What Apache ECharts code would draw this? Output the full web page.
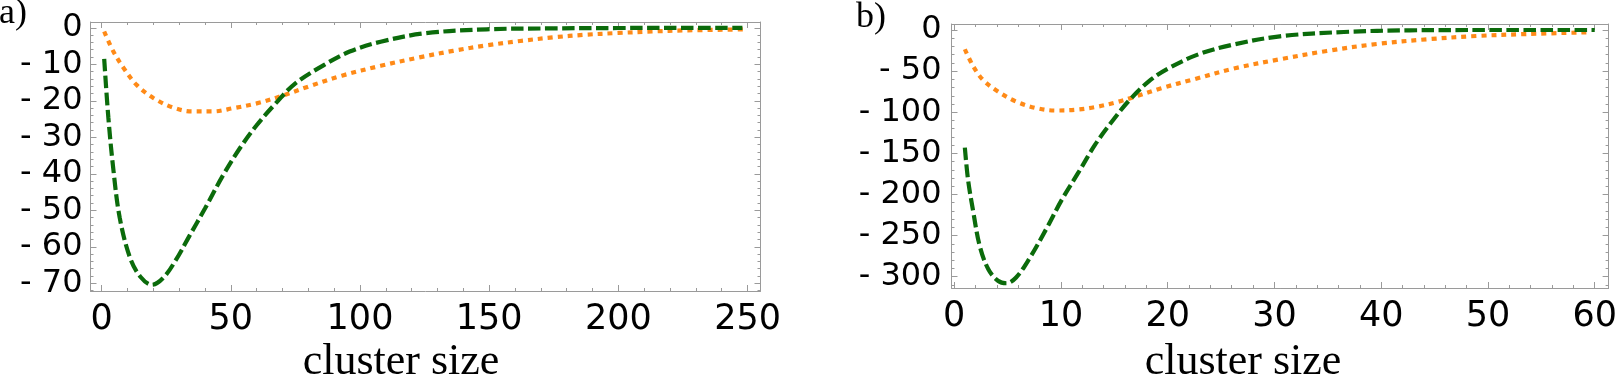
<!DOCTYPE html>
<html>
<head>
<meta charset="utf-8">
<script src="https://cdn.jsdelivr.net/npm/echarts@6/dist/echarts.min.js"></script>
<style>
  html, body { margin: 0; padding: 0; background: #fff; }
  #chart { width: 1620px; height: 378px; }
</style>
</head>
<body>
<div id="chart"></div>
<script>
// panel a) cluster sizes 0..250
const aGreenX = [1, 2.6, 4.5, 7, 11, 15, 19.5, 24, 29, 34, 40, 47, 53.5, 60, 68, 75, 86, 96, 108, 125, 149, 175, 200, 225, 248];
const aGreenY = [-8.5, -24.5, -38.5, -52, -63, -68.2, -70.4, -68.4, -63.3, -57, -49.5, -40.4, -33, -26.7, -20.2, -15.2, -10.2, -6.5, -3.8, -1.5, -0.4, -0.15, -0.05, 0, 0];
const aOrangeX = [1, 4.5, 8.5, 13.5, 20, 27.5, 35, 43, 51, 60, 70, 80, 93, 108, 123, 136, 149, 162, 175, 187, 200, 213, 226, 250];
const aOrangeY = [-1, -6.4, -11, -15.6, -19.2, -21.8, -22.9, -22.9, -22, -20.7, -18.6, -16.1, -13.1, -10.4, -8.1, -6.3, -4.8, -3.6, -2.6, -1.9, -1.4, -1.0, -0.7, -0.4];

// panel b) cluster sizes 0..60
const bGreenX = [1, 1.3, 1.8, 2.4, 3.2, 4.1, 4.9, 5.8, 7, 8.6, 10.1, 11.7, 13.2, 14.8, 16.3, 18.2, 20.1, 22.9, 26, 30.5, 36.5, 42.7, 50, 60];
const bGreenY = [-143, -182, -222, -263, -291, -305, -308, -301, -279, -242.6, -206, -172, -139.5, -111, -87, -62.7, -46.5, -29.5, -18.2, -7.7, -2.4, -0.4, 0, 0];
const bOrangeX = [1, 1.8, 2.7, 4.1, 5.8, 7.7, 9.5, 11.4, 13.2, 15.1, 17, 19.4, 22.5, 26.3, 30.6, 34.9, 39.6, 44.3, 48.9, 53.6, 59.4];
const bOrangeY = [-23.4, -44.5, -60.7, -74.8, -87, -95, -97.9, -97, -93.8, -88.2, -80.9, -70.8, -59.8, -46.5, -35.4, -25.5, -17, -11.3, -7.3, -4.9, -2.8];

// tick labels
const aXTicks = [0, 50, 100, 150, 200, 250];
const aYTicks = [0, -10, -20, -30, -40, -50, -60, -70];
const bXTicks = [0, 10, 20, 30, 40, 50, 60];
const bYTicks = [0, -50, -100, -150, -200, -250, -300];

const FRAME = '#9a9a9a';
const GREEN = '#0b6b0b';
const ORANGE = '#ff8a17';
const SANS = "'DejaVu Sans', sans-serif";

function range(from, to, step) {
  const out = [];
  for (let v = from; v <= to + 1e-9; v += step) out.push(+v.toFixed(6));
  return out;
}

function pairs(xs, ys) {
  return xs.map((x, i) => [x, ys[i]]);
}

function yFmt(v) {
  return v < 0 ? '- ' + Math.abs(v) : String(v);
}

// four framed sides; each side = one axis with major ticks (+labels) and one with minor ticks
function sideAxes(gridIndex, position, min, max, major, minor, label) {
  const base = {
    type: 'value', gridIndex, position, min, max,
    splitLine: { show: false }
  };
  const main = Object.assign({}, base, {
    axisLine: { show: true, onZero: false, lineStyle: { color: FRAME, width: 1 } },
    axisTick: { show: true, inside: true, length: 6, customValues: major, lineStyle: { color: FRAME } },
    axisLabel: label ? Object.assign({ customValues: major }, label) : { show: false }
  });
  const sub = Object.assign({}, base, {
    axisLine: { show: false, onZero: false },
    axisTick: { show: true, inside: true, length: 3, customValues: minor, lineStyle: { color: FRAME } },
    axisLabel: { show: false }
  });
  return [main, sub];
}

const xLabel = { color: '#000', fontFamily: SANS, fontSize: 35, margin: 11 };
const yLabel = { color: '#000', fontFamily: SANS, fontSize: 32, margin: 8, formatter: yFmt };

const aX = [-4.3, 255], aY = [-72.1, 1.6];
const bX = [-0.25, 61.3], bY = [-313.8, 7.3];

const xAxes = [].concat(
  sideAxes(0, 'bottom', aX[0], aX[1], aXTicks, range(0, 250, 10), xLabel),
  sideAxes(0, 'top', aX[0], aX[1], aXTicks, range(0, 250, 10), null),
  sideAxes(1, 'bottom', bX[0], bX[1], bXTicks, range(0, 60, 2), xLabel),
  sideAxes(1, 'top', bX[0], bX[1], bXTicks, range(0, 60, 2), null)
);
const yAxes = [].concat(
  sideAxes(0, 'left', aY[0], aY[1], aYTicks, range(-72, 0, 2), yLabel),
  sideAxes(0, 'right', aY[0], aY[1], aYTicks, range(-72, 0, 2), null),
  sideAxes(1, 'left', bY[0], bY[1], bYTicks, range(-310, 0, 10), Object.assign({}, yLabel, { margin: 10 })),
  sideAxes(1, 'right', bY[0], bY[1], bYTicks, range(-310, 0, 10), null)
);

function curve(name, xs, ys, xi, yi, color, dash) {
  return {
    name, type: 'line', xAxisIndex: xi, yAxisIndex: yi,
    data: pairs(xs, ys), smooth: 0.35, showSymbol: false, symbol: 'none',
    lineStyle: { color, width: 4.2, type: dash, cap: 'butt' },
    silent: true
  };
}

const chart = echarts.init(document.getElementById('chart'), null, { renderer: 'canvas' });
chart.setOption({
  animation: false,
  backgroundColor: '#fff',
  grid: [
    { left: 90.5, top: 22, width: 670, height: 269, containLabel: false },
    { left: 951.5, top: 24, width: 662, height: 264, containLabel: false }
  ],
  xAxis: xAxes,
  yAxis: yAxes,
  series: [
    curve('a orange', aOrangeX, aOrangeY, 0, 0, ORANGE, [5, 5]),
    curve('a green', aGreenX, aGreenY, 0, 0, GREEN, [12.5, 4.5]),
    curve('b orange', bOrangeX, bOrangeY, 4, 4, ORANGE, [5, 5]),
    curve('b green', bGreenX, bGreenY, 4, 4, GREEN, [12.5, 4.5])
  ],
  graphic: [
    { type: 'text', left: -1, top: -4, style: { text: 'a)', font: '36px "Liberation Serif"', fill: '#000' } },
    { type: 'text', left: 856, top: 0, style: { text: 'b)', font: '36px "Liberation Serif"', fill: '#000' } },
    { type: 'text', x: 401, y: 362, style: { text: 'cluster size', font: '44px "Liberation Serif"', fill: '#000', align: 'center', verticalAlign: 'middle' } },
    { type: 'text', x: 1243, y: 362, style: { text: 'cluster size', font: '44px "Liberation Serif"', fill: '#000', align: 'center', verticalAlign: 'middle' } }
  ]
});
</script>
</body>
</html>
